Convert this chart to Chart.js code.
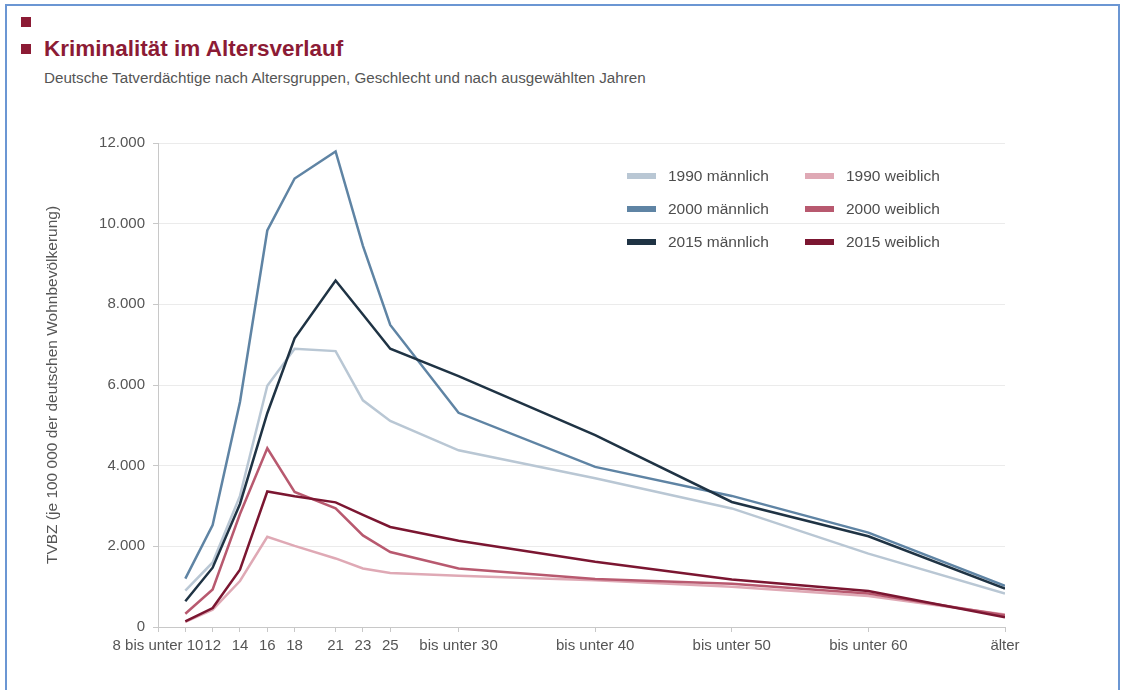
<!DOCTYPE html>
<html lang="de">
<head>
<meta charset="utf-8">
<title>Kriminalität im Altersverlauf</title>
<script src="https://cdn.jsdelivr.net/npm/chart.js@4.4.1/dist/chart.umd.min.js"></script>
<style>
  html, body { margin: 0; padding: 0; background: #fff; overflow: hidden; }
  body { width: 1132px; height: 690px; position: relative; font-family: "Liberation Sans", Arial, Helvetica, sans-serif; }
  .frame { position: absolute; left: 5px; top: 4px; width: 1115px; height: 720px; border: 2px solid #6b96d3; box-sizing: border-box; }
  .sq { position: absolute; left: 21px; width: 10px; height: 10px; background: #8c1b35; }
  .title { position: absolute; left: 44px; top: 36px; font-size: 22.5px; font-weight: bold; color: #8c1b35; line-height: 26px; white-space: nowrap; }
  .subtitle { position: absolute; left: 44px; top: 69px; font-size: 15.2px; color: #555; white-space: nowrap; }
  canvas { position: absolute; left: 0; top: 0; }
</style>
</head>
<body>
<div class="frame"></div>
<div class="sq" style="top:17px"></div>
<div class="sq" style="top:44px"></div>
<div class="title">Kriminalität im Altersverlauf</div>
<div class="subtitle">Deutsche Tatverdächtige nach Altersgruppen, Geschlecht und nach ausgewählten Jahren</div>
<canvas id="chart" width="1132" height="690"></canvas>
<script>
// Age group upper bounds (x positions of the data points)
const ages = [10, 12, 14, 16, 18, 21, 23, 25, 30, 40, 50, 60, 70];

// Tick positions and their labels on the age axis
const tickAges = [8, 10, 12, 14, 16, 18, 21, 23, 25, 30, 40, 50, 60, 70];
const tickLabels = ["8 bis unter 10", "", "12", "14", "16", "18", "21", "23", "25",
  "bis unter 30", "bis unter 40", "bis unter 50", "bis unter 60", "älter"];

// Suspects per 100 000 of the German resident population (TVBZ)
const male1990   = [900, 1600, 3250, 5980, 6900, 6840, 5620, 5110, 4380, 3690, 2940, 1820, 830];
const male2000   = [1200, 2530, 5580, 9830, 11120, 11790, 9450, 7490, 5310, 3970, 3250, 2340, 1020];
const male2015   = [640, 1470, 3050, 5300, 7160, 8590, 7750, 6900, 6220, 4760, 3100, 2250, 950];
const female1990 = [130, 430, 1140, 2236, 2010, 1700, 1450, 1340, 1270, 1160, 1000, 770, 310];
const female2000 = [330, 930, 2800, 4430, 3350, 2940, 2270, 1860, 1450, 1190, 1070, 830, 290];
const female2015 = [140, 470, 1420, 3360, 3240, 3090, 2780, 2480, 2140, 1620, 1180, 890, 240];

const yTicks = [0, 2000, 4000, 6000, 8000, 10000, 12000];

// Series: drawing order is first-on-top; col/row place the entry in the legend grid
const series = [
  { label: "2015 männlich", data: male2015,   color: "#1f3344", col: 0, row: 2 },
  { label: "2015 weiblich", data: female2015, color: "#7b1631", col: 1, row: 2 },
  { label: "2000 männlich", data: male2000,   color: "#5f84a4", col: 0, row: 1 },
  { label: "2000 weiblich", data: female2000, color: "#b8596f", col: 1, row: 1 },
  { label: "1990 männlich", data: male1990,   color: "#b9c7d4", col: 0, row: 0 },
  { label: "1990 weiblich", data: female1990, color: "#dfa9b5", col: 1, row: 0 }
];

const fmt = v => String(v).replace(/\B(?=(\d{3})+(?!\d))/g, ".");
const FONT = '"Liberation Sans", Arial, Helvetica, sans-serif';

// Two-column legend drawn inside the plot area
const gridLegend = {
  id: "gridLegend",
  afterDatasetsDraw(chart, args, opts) {
    const ctx = chart.ctx;
    ctx.save();
    ctx.font = opts.fontSize + "px " + FONT;
    ctx.textBaseline = "middle";
    chart.data.datasets.forEach(ds => {
      const x = opts.x + ds.legendCol * opts.colWidth;
      const y = opts.y + ds.legendRow * opts.rowHeight;
      ctx.fillStyle = ds.borderColor;
      ctx.fillRect(x, y - opts.swatchH / 2, opts.swatchW, opts.swatchH);
      ctx.fillStyle = opts.textColor;
      ctx.fillText(ds.label, x + opts.swatchW + opts.gap, y + 1);
    });
    ctx.restore();
  }
};

new Chart(document.getElementById("chart"), {
  type: "line",
  data: {
    datasets: series.map(s => ({
      label: s.label,
      data: ages.map((a, i) => ({ x: a, y: s.data[i] })),
      borderColor: s.color,
      backgroundColor: s.color,
      borderWidth: 2.5,
      pointRadius: 0,
      pointHoverRadius: 0,
      tension: 0,
      fill: false,
      legendCol: s.col,
      legendRow: s.row
    }))
  },
  options: {
    responsive: false,
    animation: false,
    events: [],
    layout: { padding: { left: 39, top: 143, right: 127, bottom: 23 } },
    plugins: {
      legend: { display: false },
      tooltip: { enabled: false },
      gridLegend: {
        x: 627, y: 176, colWidth: 178, rowHeight: 33,
        swatchW: 29, swatchH: 6, gap: 12, fontSize: 15.5, textColor: "#4d4d4d"
      }
    },
    scales: {
      x: {
        type: "linear",
        min: tickAges[0],
        max: tickAges[tickAges.length - 1],
        afterBuildTicks: axis => { axis.ticks = tickAges.map(v => ({ value: v })); },
        afterFit: axis => { axis.height = 40; },
        grid: { drawOnChartArea: false, drawTicks: true, tickLength: 5, tickColor: "#c8c8c8" },
        border: { color: "#c8c8c8", width: 1 },
        ticks: {
          autoSkip: false, maxRotation: 0, minRotation: 0, padding: 5,
          color: "#555", font: { family: FONT, size: 15 },
          callback: v => { const i = tickAges.indexOf(v); return i < 0 ? "" : tickLabels[i]; }
        }
      },
      y: {
        min: yTicks[0],
        max: yTicks[yTicks.length - 1],
        afterBuildTicks: axis => { axis.ticks = yTicks.map(v => ({ value: v })); },
        afterFit: axis => { axis.width = 119; },
        grid: { color: "#ebebeb", lineWidth: 1, drawTicks: true, tickLength: 5, tickColor: "#c8c8c8" },
        border: { color: "#c8c8c8", width: 1 },
        ticks: { padding: 8, color: "#555", font: { family: FONT, size: 15 }, callback: v => fmt(v) },
        title: {
          display: true,
          text: "TVBZ (je 100 000 der deutschen Wohnbevölkerung)",
          color: "#555",
          font: { family: FONT, size: 15.5 },
          padding: { top: 4, bottom: 4 }
        }
      }
    }
  },
  plugins: [gridLegend]
});
</script>
</body>
</html>
